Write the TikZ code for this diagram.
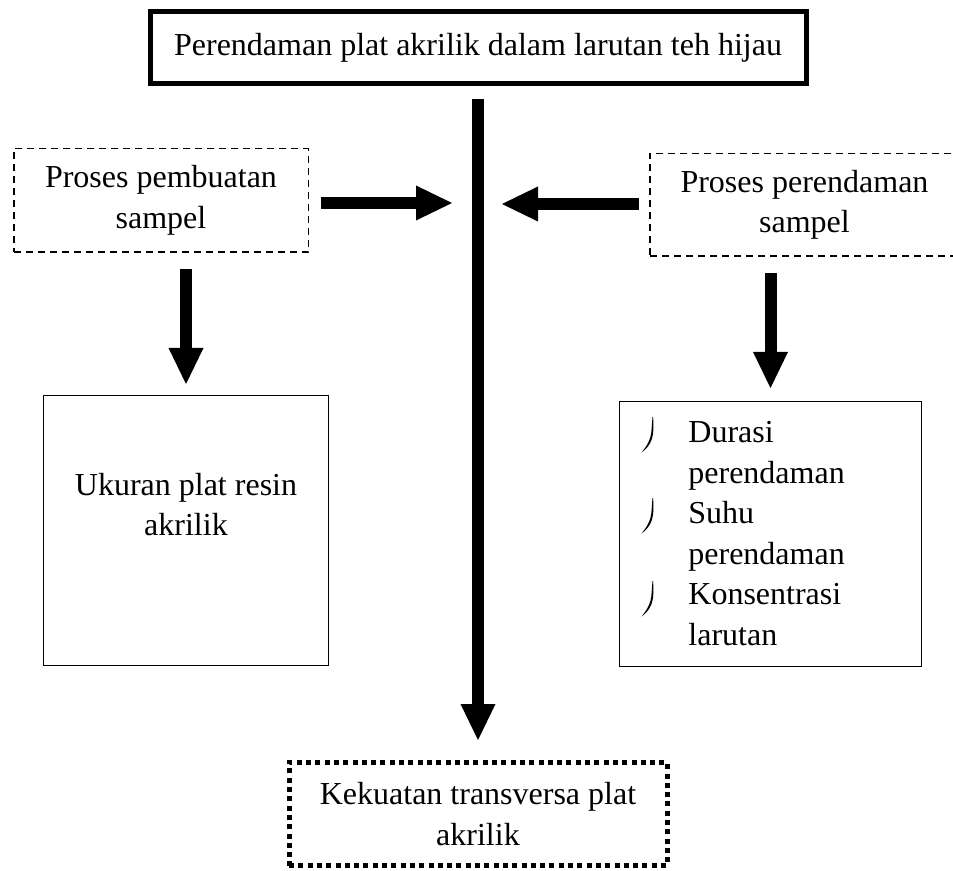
\documentclass[tikz,border=0pt]{standalone}
\usepackage{fontspec}
\setmainfont{Liberation Serif}
\usetikzlibrary{arrows.meta}
\begin{document}
\begin{tikzpicture}[x=.5pt,y=-.5pt,font=\fontsize{16}{20.25}\selectfont,
	panah/.style={line width=6pt,-{Triangle[length=18pt,width=17.5pt,line width=0pt]}},
	kotak/.style={draw,line width=.7pt,inner sep=0pt,align=center},
	putus/.style={kotak,line width=.75pt,dash pattern=on 3.5pt off 2.5pt},
	titik/.style={kotak,line width=2.5pt,dash pattern=on 2.5pt off 2.15pt}]
	\useasboundingbox (0,0) rectangle (953,871);
	\node[kotak,line width=2.5pt,minimum width=328pt,minimum height=36pt] (judul) at (478,47.5) {Perendaman plat akrilik dalam larutan teh hijau};
	\node[putus,minimum width=147.25pt,minimum height=51.75pt] (pembuatan) at (161,200.5) {Proses pembuatan\\sampel};
	\node[putus,minimum width=154.75pt,minimum height=51.25pt] (perendaman) at (804.5,205) {Proses perendaman\\sampel};
	\node[kotak,minimum width=142.3pt,minimum height=134.8pt] (ukuran) at (186,530.5) {};
	\node[inner sep=0pt,align=center] (ukurantxt) at (186,504.5) {Ukuran plat resin\\akrilik};
	\node[kotak,minimum width=150.8pt,minimum height=132.3pt] (faktor) at (770.5,534) {};
	\node[inner sep=0pt,align=left,anchor=north west] (faktortxt) at (688,421) {Durasi\\perendaman\\Suhu\\perendaman\\Konsentrasi\\larutan};
	\node[titik,minimum width=189pt,minimum height=51.5pt] (hasil) at (478,814) {Kekuatan transversa plat\\akrilik};
	\coordinate (kiri) at (452,203);
	\coordinate (kanan) at (502,204);
	% panah
	\draw[panah] ([yshift=-6.5pt]judul.south) -- ([yshift=10pt]hasil.north);
	\draw[panah] ([shift={(6pt,-1.25pt)}]pembuatan.east) -- (kiri);
	\draw[panah] ([shift={(-5pt,.5pt)}]perendaman.west) -- (kanan);
	\draw[panah] ([yshift=-8pt]pembuatan.south -| ukuran.north) -- ([yshift=5.5pt]ukuran.north);
	\draw[panah] ([yshift=-8pt]perendaman.south -| faktor.north) -- ([yshift=6.5pt]faktor.north);
	% tanda butir
	\foreach \y in {443,524,607}
		\fill (653.2,{\y-26}) -- (653.4,{\y-14}) .. controls (653.2,{\y-2}) and (648,{\y+5}) .. (641.5,{\y+9.5})
			.. controls (646,{\y+4}) and (651.2,{\y-3}) .. (651.6,{\y-14}) -- (652.5,{\y-26}) -- cycle;
\end{tikzpicture}
\end{document}
